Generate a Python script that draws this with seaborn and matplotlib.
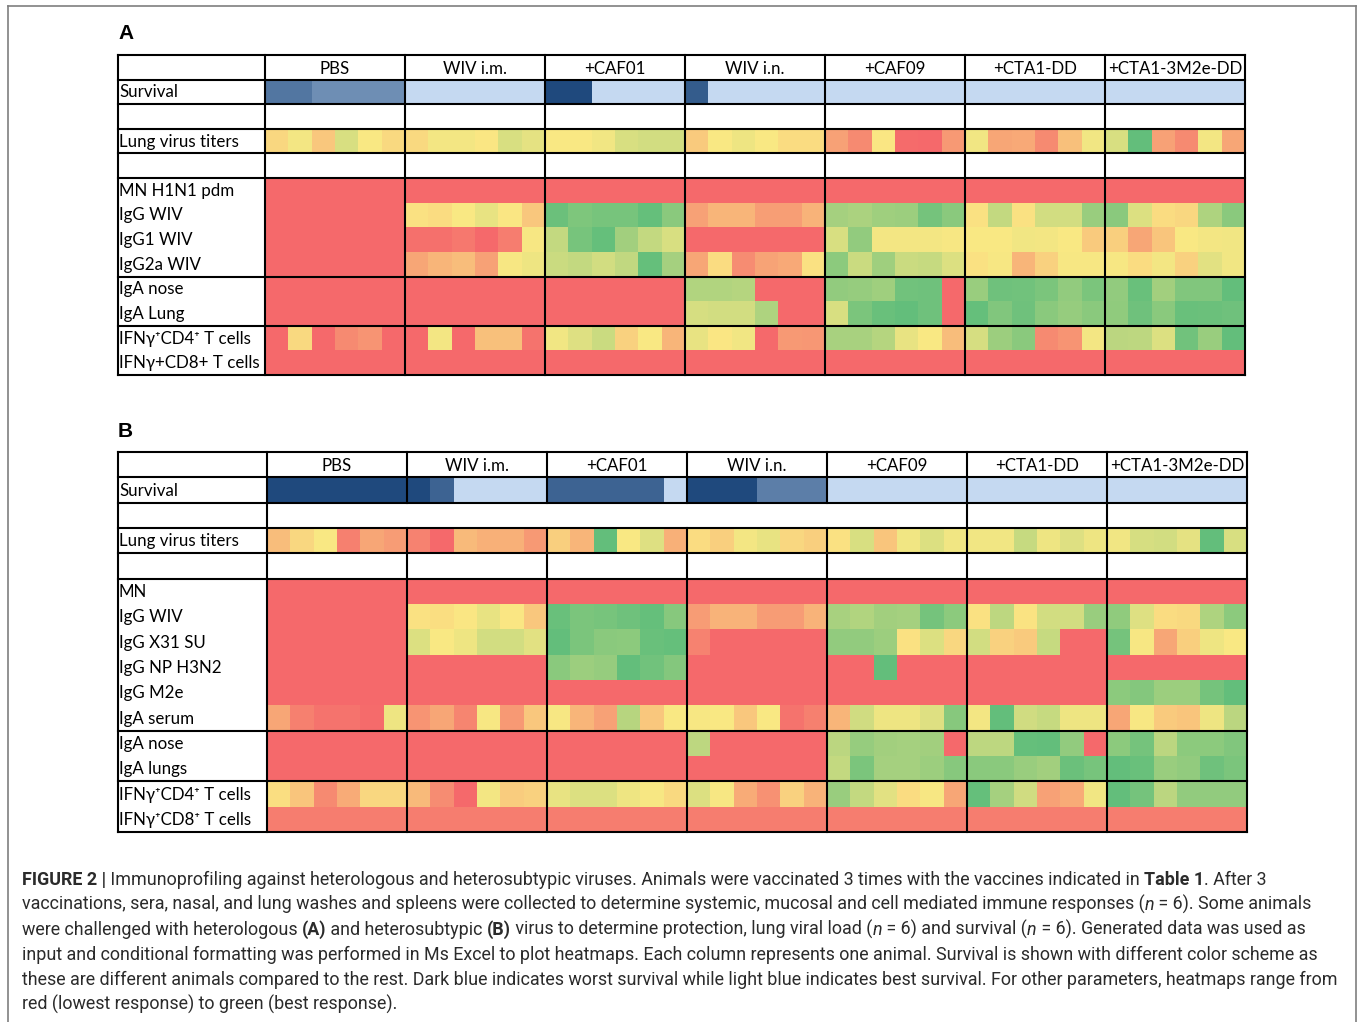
"""
Immunoprofiling heatmaps (Figure 2, panels A and B) redrawn with seaborn
"""

import numpy as np
import matplotlib
matplotlib.use('Agg')
import matplotlib.pyplot as plt
import seaborn as sns
from matplotlib.colors import LinearSegmentedColormap
from matplotlib.lines import Line2D


W, H = 1358, 1022

groups = ["PBS", "WIV i.m.", "+CAF01", "WIV i.n.", "+CAF09", "+CTA1-DD", "+CTA1-3M2e-DD"]

# Survival: 0 = worst (dark blue) .. 1 = best (light blue)
# Other rows: 0 = lowest response (red) .. 10 = best response (green)
# each row: 7 groups x 6 animals

# ---------------- panel A (heterologous) ----------------
a_survival = [[0.31, 0.31, 0.48, 0.48, 0.48, 0.48], [1] * 6, [0, 0, 1, 1, 1, 1],
              [0.13, 1, 1, 1, 1, 1], [1] * 6, [1] * 6, [1] * 6]
a_lung = [[4.3, 5.2, 3.7, 6.1, 5.0, 4.4], [4.4, 5.2, 5.2, 4.9, 6.1, 5.7],
          [5.0, 5.0, 5.3, 6.1, 6.3, 6.3], [3.8, 5.0, 5.4, 5.0, 4.5, 4.5],
          [2.2, 1.3, 4.9, 0.1, 0.0, 1.9], [5.3, 2.4, 2.5, 1.3, 3.4, 5.3],
          [6.1, 10, 2.2, 1.3, 5.2, 2.4]]
a_mn = [[0] * 6] * 7
a_igg_wiv = [[0] * 6, [4.7, 4.5, 5.0, 5.6, 4.9, 3.7], [9.7, 9.1, 9.3, 9.3, 9.9, 8.7],
             [2.2, 3.0, 3.0, 2.1, 2.1, 2.9], [7.8, 7.6, 8.0, 8.1, 9.4, 8.7],
             [4.7, 6.8, 4.7, 6.3, 6.3, 8.2], [8.7, 6.0, 4.5, 4.3, 7.5, 8.7]]
a_igg1 = [[0] * 6, [0.3, 0.3, 0.6, 0.0, 0.8, 5.1], [6.8, 9.3, 9.9, 7.9, 6.8, 6.1],
          [0] * 6, [6.1, 8.4, 5.2, 5.2, 5.2, 5.1], [5.0, 5.0, 5.3, 5.2, 5.0, 3.8],
          [4.0, 2.4, 3.6, 5.0, 5.2, 5.3]]
a_igg2a = [[0] * 6, [2.4, 3.0, 3.3, 2.2, 5.1, 5.4], [6.6, 6.8, 6.3, 6.9, 9.9, 7.8],
           [2.4, 4.5, 1.4, 2.3, 2.5, 4.7], [8.6, 6.6, 8.0, 6.6, 6.7, 6.0],
           [4.7, 5.1, 3.0, 4.1, 5.1, 5.1], [5.1, 4.5, 5.2, 4.1, 5.8, 5.3]]
a_iga_nose = [[0] * 6, [0] * 6, [0] * 6, [7.4, 7.4, 7.3, 0, 0, 0],
              [8.4, 8.3, 8.0, 9.5, 9.6, 0], [8.2, 9.6, 9.5, 9.2, 8.4, 9.2],
              [8.4, 9.8, 7.9, 9.0, 9.0, 10]]
a_iga_lung = [[0] * 6, [0] * 6, [0] * 6, [6.2, 6.3, 6.3, 7.5, 0, 0],
              [6.1, 9.2, 9.8, 10, 9.6, 0], [9.9, 9.0, 9.6, 8.7, 8.3, 8.7],
              [8.5, 9.6, 8.7, 9.8, 9.7, 9.6]]
a_cd4 = [[0, 4.4, 0, 1.3, 1.7, 0], [0, 5.2, 0, 3.4, 3.4, 0.4], [5.3, 5.9, 6.6, 4.1, 5.0, 3.0],
         [5.6, 4.9, 5.3, 0, 1.9, 1.8], [7.7, 7.7, 7.3, 5.6, 5.0, 3.3],
         [6.2, 8.1, 8.7, 1.3, 1.7, 5.2], [7.1, 7.0, 6.0, 9.5, 8.2, 10]]
a_cd8 = [[0] * 6] * 7

# ---------------- panel B (heterosubtypic) ----------------
b_survival = [[0] * 6, [0, 0.18, 1, 1, 1, 1], [0.18] * 5 + [1],
              [0, 0, 0, 0.37, 0.37, 0.37], [1] * 6, [1] * 6, [1] * 6]
b_lung = [[3.3, 4.3, 5.0, 0.9, 2.4, 2.0], [1.0, 0.0, 3.2, 2.8, 2.8, 1.9],
          [4.0, 3.0, 10, 5.0, 5.9, 2.8], [4.5, 4.0, 5.2, 5.6, 4.3, 4.0],
          [4.7, 6.1, 3.6, 5.3, 6.0, 5.3], [5.3, 5.3, 6.7, 5.4, 5.9, 5.4],
          [5.3, 6.2, 6.3, 5.7, 10, 6.1]]
b_mn = [[0] * 6] * 7
b_igg_wiv = [[0] * 6, [4.7, 4.6, 4.9, 5.6, 4.9, 3.7], [9.8, 9.2, 9.3, 9.6, 9.9, 8.8],
             [2.0, 2.9, 2.9, 2.0, 2.0, 2.9], [7.7, 7.4, 7.9, 7.8, 9.4, 8.6],
             [4.7, 7.0, 4.8, 6.3, 6.3, 8.2], [8.5, 5.9, 4.5, 4.4, 7.5, 8.6]]
b_igg_x31 = [[0] * 6, [6.0, 5.0, 5.4, 6.3, 6.3, 5.8], [10, 9.2, 8.7, 8.6, 9.8, 9.9],
             [1.0, 0, 0, 0, 0, 0], [8.4, 8.4, 8.1, 4.7, 6.0, 4.3],
             [6.3, 4.1, 3.8, 6.7, 0, 0], [9.4, 5.1, 2.4, 4.0, 5.4, 5.0]]
b_igg_np = [[0] * 6, [0] * 6, [8.7, 8.1, 8.3, 10, 9.5, 8.9], [0] * 6,
            [0, 0, 10, 0, 0, 0], [0] * 6, [0] * 6]
b_igg_m2e = [[0] * 6, [0] * 6, [0] * 6, [0] * 6, [0] * 6, [0] * 6,
             [8.6, 8.9, 8.1, 8.1, 9.4, 10]]
b_iga_serum = [[2.4, 0.9, 0.4, 0.4, 0.1, 5.4], [1.7, 2.4, 1.1, 5.1, 1.9, 3.7],
               [5.1, 3.0, 2.2, 7.2, 3.7, 5.0], [5.1, 5.0, 3.7, 5.0, 0.4, 0.9],
               [3.0, 6.4, 5.4, 5.4, 5.9, 8.8], [5.2, 10, 6.4, 6.7, 5.4, 5.4],
               [2.4, 5.1, 3.8, 3.6, 5.4, 7.1]]
b_iga_nose = [[0] * 6, [0] * 6, [0] * 6, [7.0, 0, 0, 0, 0, 0],
              [7.1, 8.3, 7.9, 7.8, 7.9, 0], [7.0, 7.0, 9.9, 10, 8.4, 0],
              [8.6, 9.4, 7.1, 8.6, 8.6, 9.0]]
b_iga_lungs = [[0] * 6, [0] * 6, [0] * 6, [0] * 6,
               [6.8, 9.2, 7.8, 7.8, 8.1, 8.8], [8.7, 8.7, 8.2, 7.9, 9.7, 9.3],
               [10, 9.8, 8.2, 8.4, 9.6, 9.2]]
b_cd4 = [[4.6, 3.6, 1.3, 2.6, 4.3, 4.3], [3.2, 1.4, 0.0, 5.2, 3.9, 4.1],
         [5.6, 6.0, 6.0, 5.4, 5.1, 4.4], [6.0, 5.1, 2.6, 1.6, 4.1, 2.9],
         [8.2, 6.8, 5.8, 4.5, 5.1, 2.4], [9.9, 7.8, 6.4, 2.2, 2.6, 5.3],
         [10, 9.4, 7.1, 8.4, 8.4, 8.4]]
b_cd8 = [[0.8] * 6] * 7

CD4_SUP = "IFNγ\u207aCD4\u207a T cells"
CD8_SUP = "IFNγ\u207aCD8\u207a T cells"

panel_a_rows = [
    ("Survival", "surv", a_survival), ("", "blank", None),
    ("Lung virus titers", "ryg", a_lung), ("", "blank", None),
    ("MN H1N1 pdm", "ryg", a_mn), ("IgG WIV", "ryg", a_igg_wiv),
    ("IgG1 WIV", "ryg", a_igg1), ("IgG2a WIV", "ryg", a_igg2a),
    ("IgA nose", "ryg", a_iga_nose), ("IgA Lung", "ryg", a_iga_lung),
    (CD4_SUP, "ryg", a_cd4), ("IFNγ+CD8+ T cells", "ryg", a_cd8),
]
panel_b_rows = [
    ("Survival", "surv", b_survival), ("", "blank", None),
    ("Lung virus titers", "ryg", b_lung), ("", "blank", None),
    ("MN", "ryg", b_mn), ("IgG WIV", "ryg", b_igg_wiv),
    ("IgG X31 SU", "ryg", b_igg_x31), ("IgG NP H3N2", "ryg", b_igg_np),
    ("IgG M2e", "ryg", b_igg_m2e), ("IgA serum", "ryg", b_iga_serum),
    ("IgA nose", "ryg", b_iga_nose), ("IgA lungs", "ryg", b_iga_lungs),
    (CD4_SUP, "ryg", b_cd4), (CD8_SUP, "ryg", b_cd8),
]

ryg_cmap = LinearSegmentedColormap.from_list("excel_ryg", ["#F5696B", "#FAE883", "#63BE7B"])
blue_cmap = LinearSegmentedColormap.from_list("excel_blue", ["#1F497D", "#C5D9F1"])

TABLE_FONT = ['Lato', 'DejaVu Sans']
TABLE_SIZE = 12.2


def draw_panel(ax, rows, label_w, h_lines, gaps):
    n = len(rows)
    ryg = np.full((n, 42), np.nan)
    surv = np.full((n, 42), np.nan)
    for i, (label, kind, vals) in enumerate(rows):
        if kind == "ryg":
            ryg[i] = np.concatenate(vals)
        elif kind == "surv":
            surv[i] = np.concatenate(vals)

    sns.heatmap(ryg, mask=np.isnan(ryg), cmap=ryg_cmap, vmin=0, vmax=10, cbar=False,
                xticklabels=False, yticklabels=False, ax=ax)
    sns.heatmap(surv, mask=np.isnan(surv), cmap=blue_cmap, vmin=0, vmax=1, cbar=False,
                xticklabels=False, yticklabels=False, ax=ax)
    ax.set_xlim(-label_w, 42)
    ax.set_ylim(n, -1)
    ax.axis('off')

    # group headers
    for g, name in enumerate(groups):
        ax.text(6 * g + 3, -0.45, name, ha='center', va='center',
                family=TABLE_FONT, fontsize=TABLE_SIZE, color='black')
    # row labels
    for i, (label, kind, vals) in enumerate(rows):
        if label:
            ax.text(-label_w + 0.04, i + 0.52, label, ha='left', va='center',
                    family=TABLE_FONT, fontsize=TABLE_SIZE, color='black')

    # grid lines (Excel borders)
    lw = 1.5
    for y in h_lines:
        ax.plot([-label_w, 42], [y, y], color='black', lw=lw, clip_on=False,
                solid_capstyle='projecting', zorder=5)
    for x in [-label_w] + list(range(0, 43, 6)):
        segs = [(-1, n)]
        if x in gaps:
            segs = [(-1, gaps[x][0]), (gaps[x][1], n)]
        for y0, y1 in segs:
            ax.plot([x, x], [y0, y1], color='black', lw=lw, clip_on=False,
                    solid_capstyle='projecting', zorder=5)


fig = plt.figure(figsize=(W / 100, H / 100), dpi=100)


def fig_axes(x0, y0, x1, y1):
    return fig.add_axes([x0 / W, 1 - y1 / H, (x1 - x0) / W, (y1 - y0) / H])


# outer frame
for xs, ys in [((8, 8), (6, 1022)), ((8, 1356), (6, 6)), ((1356, 1356), (6, 1022))]:
    fig.add_artist(Line2D([x / W for x in xs], [1 - y / H for y in ys],
                          color='#7f7f7f', lw=1.2))

# panel A
ax_a = fig_axes(118, 55, 1245, 375)
draw_panel(ax_a, panel_a_rows, 147 / (980 / 42), [-1, 0, 1, 2, 3, 4, 8, 10, 12], {})
fig.text(118 / W, 1 - 39 / H, "A", fontsize=15, fontweight='bold', family='Liberation Sans',
         ha='left', va='baseline')

# panel B
ax_b = fig_axes(118, 452, 1247, 832)
draw_panel(ax_b, panel_b_rows, 149 / (980 / 42), [-1, 0, 1, 2, 3, 4, 10, 12, 14],
           {6: (1, 2), 12: (1, 2), 18: (1, 2), 24: (1, 2)})
fig.text(118 / W, 1 - 437 / H, "B", fontsize=15, fontweight='bold', family='Liberation Sans',
         ha='left', va='baseline')

# caption
CAP_FONT = 'Roboto'
CAP_SIZE = 12.85
CAP_COLOR = '#2b2b2b'
caption = [
    [("FIGURE 2 |", 'bold', 'normal'),
     (" Immunoprofiling against heterologous and heterosubtypic viruses. Animals were vaccinated 3 times with the vaccines indicated in ", 'normal', 'normal'),
     ("Table 1", 'bold', 'normal'), (". After 3", 'normal', 'normal')],
    [("vaccinations, sera, nasal, and lung washes and spleens were collected to determine systemic, mucosal and cell mediated immune responses (", 'normal', 'normal'),
     ("n", 'normal', 'italic'), (" = 6). Some animals", 'normal', 'normal')],
    [("were challenged with heterologous ", 'normal', 'normal'), ("(A)", 'bold', 'normal'),
     (" and heterosubtypic ", 'normal', 'normal'), ("(B)", 'bold', 'normal'),
     (" virus to determine protection, lung viral load (", 'normal', 'normal'), ("n", 'normal', 'italic'),
     (" = 6) and survival (", 'normal', 'normal'), ("n", 'normal', 'italic'),
     (" = 6). Generated data was used as", 'normal', 'normal')],
    [("input and conditional formatting was performed in Ms Excel to plot heatmaps. Each column represents one animal. Survival is shown with different color scheme as", 'normal', 'normal')],
    [("these are different animals compared to the rest. Dark blue indicates worst survival while light blue indicates best survival. For other parameters, heatmaps range from", 'normal', 'normal')],
    [("red (lowest response) to green (best response).", 'normal', 'normal')],
]

renderer = fig.canvas.get_renderer()
for k, parts in enumerate(caption):
    x = 22
    y = 885 + 25 * k
    for txt, weight, style in parts:
        t = fig.text(x / W, 1 - y / H, txt, fontsize=CAP_SIZE, fontweight=weight, style=style,
                     family=CAP_FONT, color=CAP_COLOR, ha='left', va='baseline')
        x += t.get_window_extent(renderer).width

fig.savefig("out.png", dpi=100)
plt.close(fig)
